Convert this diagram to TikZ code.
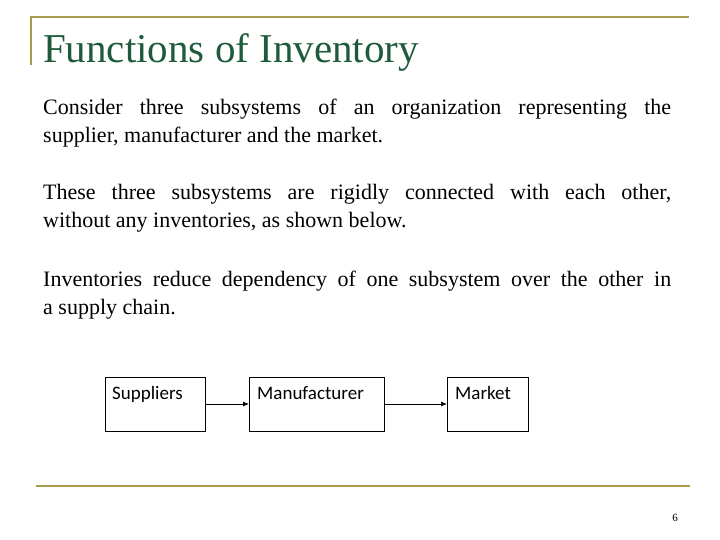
\documentclass[tikz,border=0pt]{standalone}
\usepackage{fontspec}
\usetikzlibrary{arrows.meta}
\setmainfont{Liberation Serif}
\newfontfamily\boxfont{Carlito}
\definecolor{gold}{HTML}{A89B4E}
\definecolor{titlegreen}{HTML}{1E5B3C}
\begin{document}
\begin{tikzpicture}[x=1pt,y=-1pt,
  rule/.style={draw=gold,line width=2.5pt},
  para/.style={anchor=north west,text width=628pt,align=justify,inner sep=0pt,font=\fontsize{22}{28}\selectfont},
  blk/.style={draw,line width=0.8pt,inner sep=0pt},
  lab/.style={anchor=base west,inner sep=0pt,font=\boxfont\fontsize{19}{20}\selectfont},
  arr/.style={draw,line width=0.8pt,-{Latex[length=6pt,width=5pt]}}]
\useasboundingbox (0,0) rectangle (720,540);
\draw[rule] (31,65) -- (31,17) -- (689,17);
\draw[rule] (36,486) -- (690,486);
\node[anchor=base west,inner sep=0pt,text=titlegreen,font=\fontsize{41}{44}\selectfont] (title) at (43,63) {Functions of Inventory};
\node[para] (p1) at (43,99) {Consider three subsystems of an organization representing the\linebreak supplier, manufacturer and the market.};
\node[para] (p2) at (43,184) {These three subsystems are rigidly connected with each other,\linebreak without any inventories, as shown below.};
\node[para] (p3) at (43,271) {Inventories reduce dependency of one subsystem over the other in\linebreak a supply chain.};
\path[blk] (105,377) rectangle (205,431);
\path[blk] (249,377) rectangle (384,431);
\path[blk] (447,377) rectangle (528,431);
\node[lab] (ls) at (112,399) {Suppliers};
\node[lab] (lm) at (257,399) {Manufacturer};
\node[lab] (lk) at (455,399) {Market};
\coordinate (a1) at (205,404); \coordinate (a2) at (249,404);
\coordinate (b1) at (384,404); \coordinate (b2) at (447,404);
\draw[arr] (a1) -- (a2);
\draw[arr] (b1) -- (b2);
\node[anchor=base east,inner sep=0pt,font=\fontsize{11}{12}\selectfont] (pg) at (678,521) {6};
\end{tikzpicture}
\end{document}
